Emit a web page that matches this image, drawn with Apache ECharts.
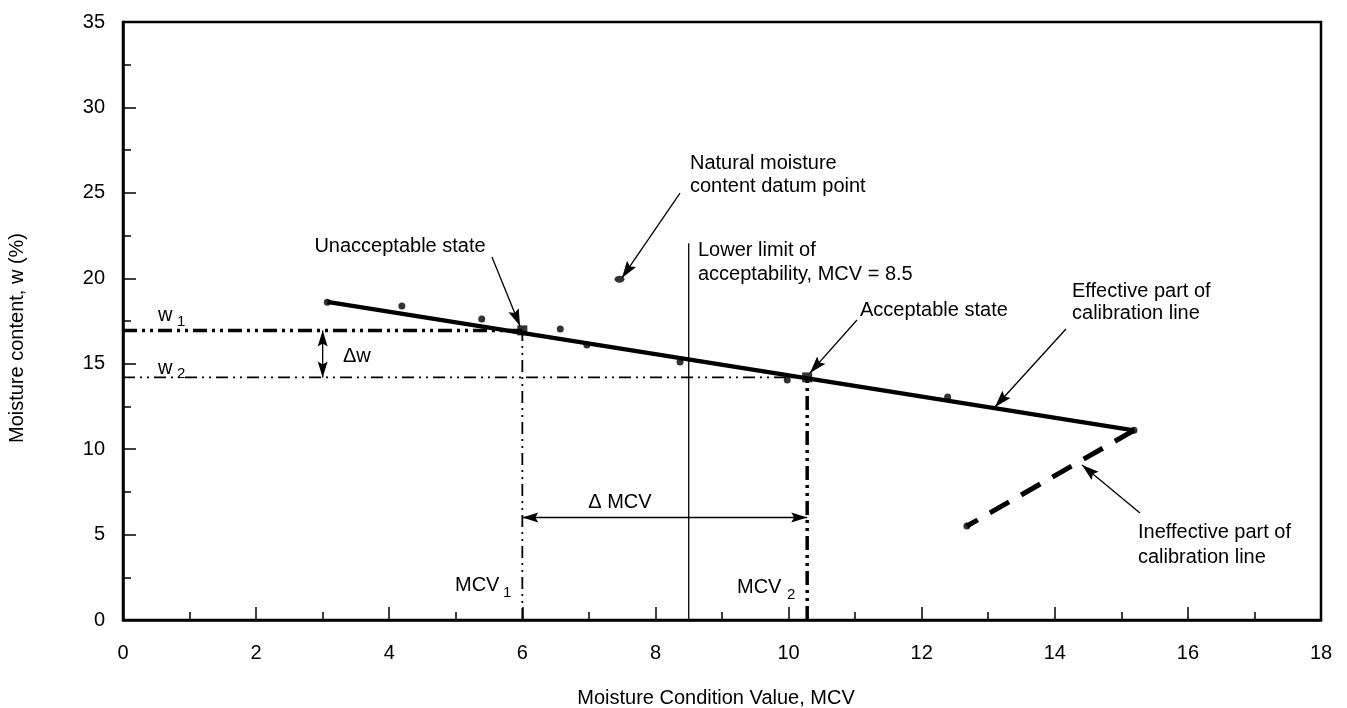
<!DOCTYPE html>
<html>
<head>
<meta charset="utf-8">
<script src="https://cdn.jsdelivr.net/npm/echarts@6/dist/echarts.min.js"></script>
<style>
html,body{margin:0;padding:0;background:#fff;}
#chart{width:1347px;height:708px;}
</style>
</head>
<body>
<div id="chart"></div>
<script>
// ---- axis settings ----
const xMin = 0, xMax = 18, xStep = 2;
const yMin = 0, yMax = 35, yStep = 5;

// ---- measured data points (MCV, w%) ----
const mcvPoints = [3.07, 4.19, 5.39, 6.57, 6.97, 8.37, 9.98, 12.39, 15.19];
const wPoints   = [18.60, 18.38, 17.62, 17.03, 16.09, 15.10, 14.05, 13.05, 11.10];

// natural moisture content datum point
const naturalPoint = [7.46, 19.94];

// calibration line (effective & ineffective parts)
const effectiveLine   = [[3.07, 18.62], [15.19, 11.10]];
const ineffectiveLine = [[15.19, 11.10], [12.68, 5.50]];

// states
const mcv1 = 6.0, w1 = 16.95;    // unacceptable state
const mcv2 = 10.28, w2 = 14.20;  // acceptable state
const lowerLimitMCV = 8.5, lowerLimitTop = 22.05;
const deltaMcvLevel = 6.0;
const deltaWAt = 3.0;

// ---- annotation arrows (data coords) ----
const arrowFrom = [[5.544, 21.25], [8.369, 24.99], [11.028, 17.56], [14.168, 17.03], [15.28, 6.26], [deltaWAt, w1], [mcv1, deltaMcvLevel]];
const arrowTo   = [[5.965, 17.21], [7.497, 20.02], [10.322, 14.46], [13.102, 12.47], [14.41, 9.07], [deltaWAt, w2], [mcv2, deltaMcvLevel]];
const arrowDouble = [false, false, false, false, false, true, true];

// ---- annotation texts ----
const labelTexts = [
  'Natural moisture\ncontent datum point',
  'Lower limit of\nacceptability, MCV = 8.5',
  'Unacceptable state',
  'Acceptable state',
  'Effective part of\ncalibration line',
  'Ineffective part of\ncalibration line',
  '\u0394 MCV',
  '\u0394w',
  'w', '1', 'w', '2',
  'MCV', '1', 'MCV', '2'
];
const labelPos = [
  [8.519, 26.07], [8.639, 20.95], [4.162, 21.86], [11.073, 18.14],
  [14.259, 18.58], [15.25, 4.39], [7.467, 6.88], [3.305, 15.45],
  [0.526, 17.85], [0.811, 17.44], [0.526, 14.75], [0.811, 14.40],
  [4.988, 2.02], [5.709, 1.58], [9.225, 1.90], [9.977, 1.46]
];
const labelAlign = ['left','left','center','left','left','left','center','left',
                    'left','left','left','left','left','left','left','left'];
const labelSize = [20,20,20,20,20,20,20,20, 20,15,20,15, 20,15,20,15];
const labelLineH = [23,24,22,22,22,25,22,22, 22,16,22,16, 22,16,22,16];

const FONT = "'Liberation Sans', Arial, Helvetica, sans-serif";

const chart = echarts.init(document.getElementById('chart'), null, {renderer: 'canvas'});

function seg(a, b) { return [a, b]; }

const arrowData = arrowFrom.map((f, i) => [f[0], f[1], arrowTo[i][0], arrowTo[i][1], i]);
const textData = labelPos.map((p, i) => [p[0], p[1], i]);

function arrowHead(tip, from, L, W, notch) {
  const dx = tip[0] - from[0], dy = tip[1] - from[1];
  const len = Math.sqrt(dx * dx + dy * dy) || 1;
  const ux = dx / len, uy = dy / len;
  const nx = -uy, ny = ux;
  const bx = tip[0] - ux * L, by = tip[1] - uy * L;
  return [
    [tip[0], tip[1]],
    [bx + nx * W, by + ny * W],
    [tip[0] - ux * (L - notch), tip[1] - uy * (L - notch)],
    [bx - nx * W, by - ny * W]
  ];
}

const axisCommon = {
  type: 'value',
  axisLine: {show: true, onZero: false, lineStyle: {color: '#000', width: 2.5}},
  axisTick: {show: true, inside: true, length: 13, lineStyle: {color: '#000', width: 1.5}},
  minorTick: {show: true, splitNumber: 2, length: 8, lineStyle: {color: '#000', width: 1.5}},
  splitLine: {show: false},
  minorSplitLine: {show: false}
};

const option = {
  backgroundColor: '#fff',
  animation: false,
  grid: {left: 123, right: 26, top: 22, bottom: 88, show: true, borderColor: '#000', borderWidth: 2.5, containLabel: false, outerBoundsMode: 'none'},
  xAxis: Object.assign({}, axisCommon, {
    min: xMin, max: xMax, interval: xStep,
    axisLabel: {color: '#000', fontSize: 20, fontFamily: FONT, margin: 23}
  }),
  yAxis: Object.assign({}, axisCommon, {
    min: yMin, max: yMax, interval: yStep,
    axisLabel: {color: '#000', fontSize: 20, fontFamily: FONT, margin: 18}
  }),
  graphic: [
    {type: 'text', x: 17, y: 338, rotation: Math.PI / 2,
     style: {text: 'Moisture content, w (%)', font: '20px ' + FONT, fill: '#000', textAlign: 'center', textVerticalAlign: 'middle'}},
    {type: 'text', x: 716, y: 698,
     style: {text: 'Moisture Condition Value, MCV', font: '20px ' + FONT, fill: '#000', textAlign: 'center', textVerticalAlign: 'middle'}}
  ],
  series: [
    {name: 'lower limit', type: 'line', data: seg([lowerLimitMCV, 0], [lowerLimitMCV, lowerLimitTop]),
     showSymbol: false, symbol: 'none', lineStyle: {color: '#000', width: 1.3}, z: 2, silent: true},
    {name: 'w1', type: 'line', data: seg([0, w1], [mcv1, w1]), symbol: 'none',
     lineStyle: {color: '#000', width: 3.5, type: [14, 5, 3, 5, 3, 5], cap: 'butt'}, z: 2},
    {name: 'w2', type: 'line', data: seg([0, w2], [mcv2, w2]), symbol: 'none',
     lineStyle: {color: '#000', width: 1.8, type: [12, 5, 2, 5, 2, 5], cap: 'butt'}, z: 2},
    {name: 'MCV1', type: 'line', data: seg([mcv1, 0], [mcv1, w1]), symbol: 'none',
     lineStyle: {color: '#000', width: 1.8, type: [12, 5, 2, 5, 2, 5], cap: 'butt'}, z: 2},
    {name: 'MCV2', type: 'line', data: seg([mcv2, 0], [mcv2, w2]), symbol: 'none',
     lineStyle: {color: '#000', width: 3.5, type: [14, 5, 3, 5, 3, 5], cap: 'butt'}, z: 2},
    {name: 'Effective part of calibration line', type: 'line', data: effectiveLine, symbol: 'none',
     lineStyle: {color: '#000', width: 4.5}, z: 3},
    {name: 'Ineffective part of calibration line', type: 'line', data: ineffectiveLine, symbol: 'none',
     lineStyle: {color: '#000', width: 5, type: [22, 14], cap: 'butt'}, z: 3},
    {name: 'ineffective end', type: 'scatter', data: [ineffectiveLine[1]], symbol: 'circle', symbolSize: 7,
     itemStyle: {color: '#000'}, z: 4},
    {name: 'data', type: 'scatter', data: mcvPoints.map((x, i) => [x, wPoints[i]]), symbol: 'circle', symbolSize: 7,
     itemStyle: {color: '#000'}, z: 4},
    {name: 'natural', type: 'scatter', data: [naturalPoint], symbol: 'circle', symbolSize: [10, 7],
     itemStyle: {color: '#000'}, z: 4},
    {name: 'states', type: 'scatter', data: [[mcv1, w1], [mcv2, w2]], symbol: 'rect', symbolSize: 10,
     itemStyle: {color: '#000'}, z: 5},
    {name: 'arrows', type: 'custom', data: arrowData, encode: {x: [0, 2], y: [1, 3]}, clip: false, z: 6,
     renderItem: function (params, api) {
       const i = api.value(4);
       const a = api.coord([api.value(0), api.value(1)]);
       const b = api.coord([api.value(2), api.value(3)]);
       const dbl = arrowDouble[i];
       const L = dbl ? 16 : 17, W = dbl ? 5 : 5.5, notch = 3;
       const children = [{type: 'line', shape: {x1: a[0], y1: a[1], x2: b[0], y2: b[1]},
                          style: {stroke: '#000', lineWidth: 1.3}}];
       children.push({type: 'polygon', shape: {points: arrowHead(b, a, L, W, notch)}, style: {fill: '#000'}});
       if (dbl) children.push({type: 'polygon', shape: {points: arrowHead(a, b, L, W, notch)}, style: {fill: '#000'}});
       return {type: 'group', children: children};
     }},
    {name: 'texts', type: 'custom', data: textData, encode: {x: 0, y: 1}, clip: false, z: 7,
     renderItem: function (params, api) {
       const i = api.value(2);
       const p = api.coord([api.value(0), api.value(1)]);
       return {type: 'text', x: p[0], y: p[1],
               style: {text: labelTexts[i], font: labelSize[i] + 'px ' + FONT, fill: '#000',
                       textAlign: labelAlign[i], textVerticalAlign: 'middle', lineHeight: labelLineH[i]}};
     }}
  ]
};
chart.setOption(option);
</script>
</body>
</html>
